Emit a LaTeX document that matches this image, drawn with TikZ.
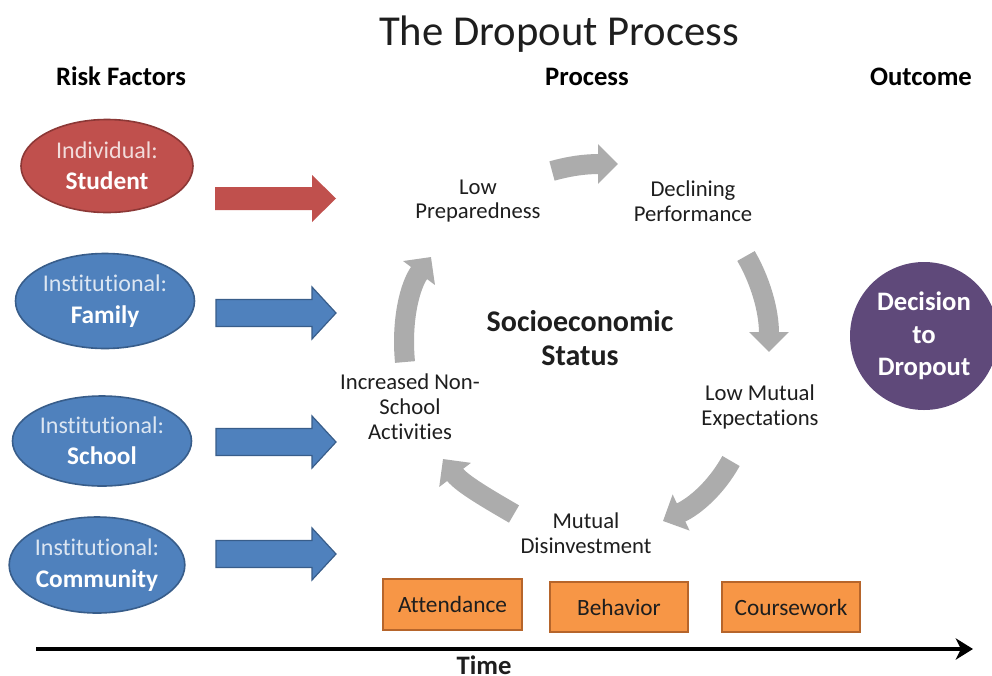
\documentclass[tikz,border=0pt]{standalone}
\usepackage{fontspec}
\setmainfont{Carlito}[Ligatures=NoCommon]
\usetikzlibrary{arrows.meta,shapes.geometric}
\definecolor{redfill}{RGB}{192,80,77}
\definecolor{redline}{RGB}{140,56,54}
\definecolor{bluefill}{RGB}{79,129,189}
\definecolor{blueline}{RGB}{56,93,138}
\definecolor{lightred}{RGB}{242,220,219}
\definecolor{lightblue}{RGB}{220,230,242}
\definecolor{purplefill}{RGB}{95,73,122}
\definecolor{orangefill}{RGB}{247,150,70}
\definecolor{orangeline}{RGB}{182,101,43}
\definecolor{cyclegray}{RGB}{172,172,172}
\definecolor{textdark}{RGB}{30,30,30}
\newcommand{\blockarr}[7]{%
  \fill[#7] (#1,{#3-#4}) -- ({#2-#6},{#3-#4}) -- ({#2-#6},{#3-#5}) -- (#2,#3)
    -- ({#2-#6},{#3+#5}) -- ({#2-#6},{#3+#4}) -- (#1,{#3+#4}) -- cycle;}
\tikzset{
  riskbox/.style={ellipse, inner sep=0pt, align=center, line width=1.2pt,
    font=\fontsize{18}{23.5}\selectfont},
  redrisk/.style={riskbox, fill=redfill, draw=redline},
  bluerisk/.style={riskbox, fill=bluefill, draw=blueline},
  heading/.style={font=\bfseries\fontsize{20}{24}\selectfont, anchor=base},
  proclabel/.style={align=center, text=textdark, font=\fontsize{17}{18.6}\selectfont},
  marker/.style={draw=orangeline, fill=orangefill, line width=1.2pt, inner sep=0pt,
    text=textdark, font=\fontsize{17.5}{20}\selectfont},
  cyclearrow/.style={draw=cyclegray, line width=15pt,
    -{Triangle[length=15pt,width=29pt]}},
  redblock/.style={fill=redfill},
  blueblock/.style={fill=bluefill, draw=blueline, line width=0.9pt},
}
\newcommand{\smalltxt}{\fontsize{18}{23.5}\selectfont}
\newcommand{\bigtxt}{\bfseries\fontsize{19}{23.5}\selectfont}
\begin{document}
\begin{tikzpicture}[x=0.75pt, y=-0.75pt]
\fill[white] (0,0) rectangle (992,675);
\useasboundingbox (0,0) rectangle (992,675);

% title and headings
\node[anchor=base, text=textdark, font=\fontsize{32}{36}\selectfont] (title) at (559,45) {The Dropout Process};
\node[heading] (hrisk) at (121,85) {Risk Factors};
\node[heading] (hproc) at (587,85) {Process};
\node[heading] (hout) at (921,85) {Outcome};

% risk factor ellipses
\node[redrisk, minimum width=172*0.75pt, minimum height=93*0.75pt] (student) at (107,166)
  {\textcolor{lightred}{\smalltxt Individual:}\\\textcolor{white}{\bigtxt Student}};
\node[bluerisk, minimum width=179*0.75pt, minimum height=95*0.75pt] (family) at (105,301)
  {\textcolor{lightblue}{\smalltxt Institutional:}\\\textcolor{white}{\bigtxt Family}};
\node[bluerisk, minimum width=179*0.75pt, minimum height=90*0.75pt] (school) at (102,441)
  {\textcolor{lightblue}{\smalltxt Institutional:}\\\textcolor{white}{\bigtxt School}};
\node[bluerisk, minimum width=170*0.75pt, minimum height=96*0.75pt] (community) at (97,565)
  {\textcolor{lightblue}{\smalltxt Institutional:}\\\textcolor{white}{\bigtxt Community}};

% block arrows
\blockarr{215}{336}{198.5}{11.5}{23.5}{24}{redblock}
\blockarr{216}{336}{313}{13.5}{26}{24}{blueblock}
\blockarr{216}{336}{442}{13.5}{26}{24}{blueblock}
\blockarr{216}{336}{554}{13.5}{26}{24}{blueblock}

% process labels
\node[proclabel] (prep) at (478,201) {Low\\Preparedness};
\node[proclabel] (decl) at (693,201) {Declining\\Performance};
\node[proclabel] (expect) at (760,407) {Low Mutual\\Expectations};
\node[proclabel] (disinv) at (586,533) {Mutual\\Disinvestment};
\node[proclabel] (nonschool) at (410,407) {Increased Non-\\School\\Activities};
\node[align=center, text=textdark, font=\bfseries\fontsize{22.5}{25.5}\selectfont] (ses) at (580,338) {Socioeconomic\\Status};

% cycle arrows
\coordinate (c1a) at (552,171); \coordinate (c1b) at (618,164);
\coordinate (c2a) at (746,256); \coordinate (c2b) at (769,352);
\coordinate (c3a) at (731,461); \coordinate (c3b) at (663,521);
\coordinate (c4a) at (514,514); \coordinate (c4b) at (443,459);
\coordinate (c5a) at (405,362); \coordinate (c5b) at (431,257);
\draw[cyclearrow] (c1a) .. controls (570,166) and (585,164) .. (c1b);
\draw[cyclearrow] (c2a) .. controls (760,280) and (769,310) .. (c2b);
\draw[cyclearrow] (c3a) .. controls (716,488) and (695,506) .. (c3b);
\draw[cyclearrow] (c4a) .. controls (490,500) and (462,484) .. (c4b);
\draw[cyclearrow] (c5a) .. controls (401,320) and (410,285) .. (c5b);

% outcome
\node[circle, fill=purplefill, minimum size=148*0.75pt, inner sep=0pt, align=center,
  text=white, font=\bfseries\fontsize{20}{24.4}\selectfont] (decision) at (924,336)
  {Decision\\to\\Dropout};

% markers
\node[marker, minimum width=139*0.75pt, minimum height=51*0.75pt] (attend) at (452.5,604.5) {Attendance};
\node[marker, minimum width=138*0.75pt, minimum height=50*0.75pt] (behav) at (619,607) {Behavior};
\node[marker, minimum width=138*0.75pt, minimum height=50*0.75pt] (course) at (791,607) {Coursework};

% time axis
\coordinate (t0) at (36,649);
\coordinate (t1) at (973,649);
\draw[line width=3pt, -{Stealth[length=13pt,width=16pt,inset=4pt]}] (t0) -- (t1);
\node[heading, text=textdark] (time) at (484,674) {Time};
\end{tikzpicture}
\end{document}
